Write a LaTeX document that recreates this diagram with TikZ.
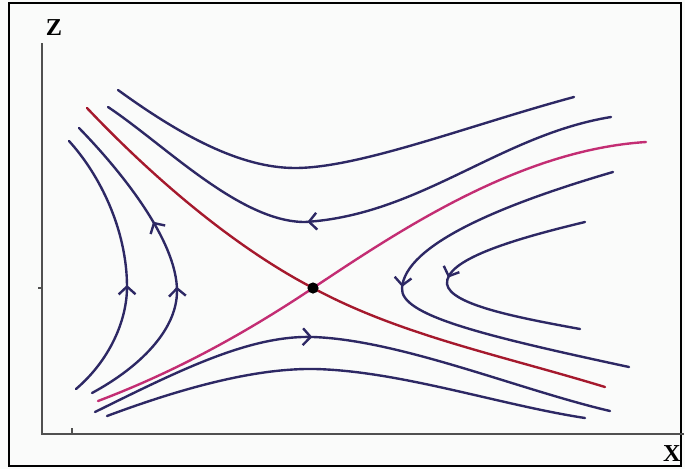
\documentclass[tikz,border=0pt]{standalone}
\usepackage{fontspec}
\setmainfont{Liberation Serif}
\usepackage{tikz}
\usetikzlibrary{arrows.meta,decorations.markings}

\definecolor{bgcol}{RGB}{250,251,250}
\definecolor{orbitblue}{RGB}{45,40,100}
\definecolor{stablered}{RGB}{165,25,45}
\definecolor{unstablered}{RGB}{195,45,115}
\definecolor{axisgray}{RGB}{80,80,80}

\begin{document}
\begin{tikzpicture}[x=0.025cm,y=-0.025cm,>=Stealth,
    orbit/.style={draw=orbitblue,line width=1.7pt,line cap=round},
    separatrix/.style={line width=1.7pt,line cap=round},
    axis/.style={draw=axisgray,line width=1.3pt},
    axlabel/.style={font=\bfseries\LARGE,inner sep=0pt},
    flowarrow/.style={postaction={decorate,decoration={markings,
        mark=at position #1 with {\arrow{Straight Barb[length=5.5pt,width=12pt]}}}}},
    saddle/.style={circle,fill=black,inner sep=0pt,minimum size=0.28cm}]
            \fill[bgcol] (0,0) rectangle (685,469);
            \useasboundingbox (0,0) rectangle (685,469);
            \draw[line width=0.9pt] (9,3) rectangle (681,466);
            \draw[axis] (42,43) -- (42,434) -- (684,434);
            \draw[axis,line width=0.8pt] (38,288) -- (43,288);
            \draw[axis,line width=0.8pt] (72,428) -- (72,434);
            \node[axlabel] (zlab) at (54,28) {Z};
            \node[axlabel] (xlab) at (672,454) {X};
            \draw[orbit] (118,90) .. controls (180,135) and (240,168) .. (295,168) .. controls (360,168) and (470,125) .. (574,97);
            \draw[orbit,flowarrow=0.58] (611,117) .. controls (500,135) and (420,215) .. (305,222) .. controls (240,222) and (165,145) .. (108,107);
            \draw[orbit,flowarrow=0.43] (76,389) .. controls (110,360) and (127,320) .. (127,287) .. controls (127,230) and (100,175) .. (69,141);
            \draw[orbit,flowarrow=0.43,flowarrow=0.64] (92,393) .. controls (140,367) and (177,330) .. (177,291) .. controls (177,240) and (120,170) .. (79,128);
            \draw[orbit,flowarrow=0.43] (95,412) .. controls (180,370) and (250,335) .. (313,337) .. controls (400,340) and (520,390) .. (610,411);
            \draw[orbit] (107,416) .. controls (190,385) and (260,368) .. (315,369) .. controls (400,371) and (500,405) .. (585,418);
            \draw[orbit,flowarrow=0.5] (613,172) .. controls (500,205) and (405,245) .. (402,288) .. controls (400,315) and (480,335) .. (629,367);
            \draw[orbit,flowarrow=0.5] (585,222) .. controls (510,240) and (445,260) .. (447,284) .. controls (450,305) and (520,318) .. (580,329);
            \draw[separatrix,stablered] (87,108) .. controls (160,185) and (240,250) .. (313,288) .. controls (400,335) and (500,355) .. (605,387);
            \draw[separatrix,unstablered] (98,401) .. controls (180,370) and (250,330) .. (313,288) .. controls (400,230) and (520,150) .. (646,142);
            \node[saddle] (P) at (313,288) {};
        \end{tikzpicture}
\end{document}
